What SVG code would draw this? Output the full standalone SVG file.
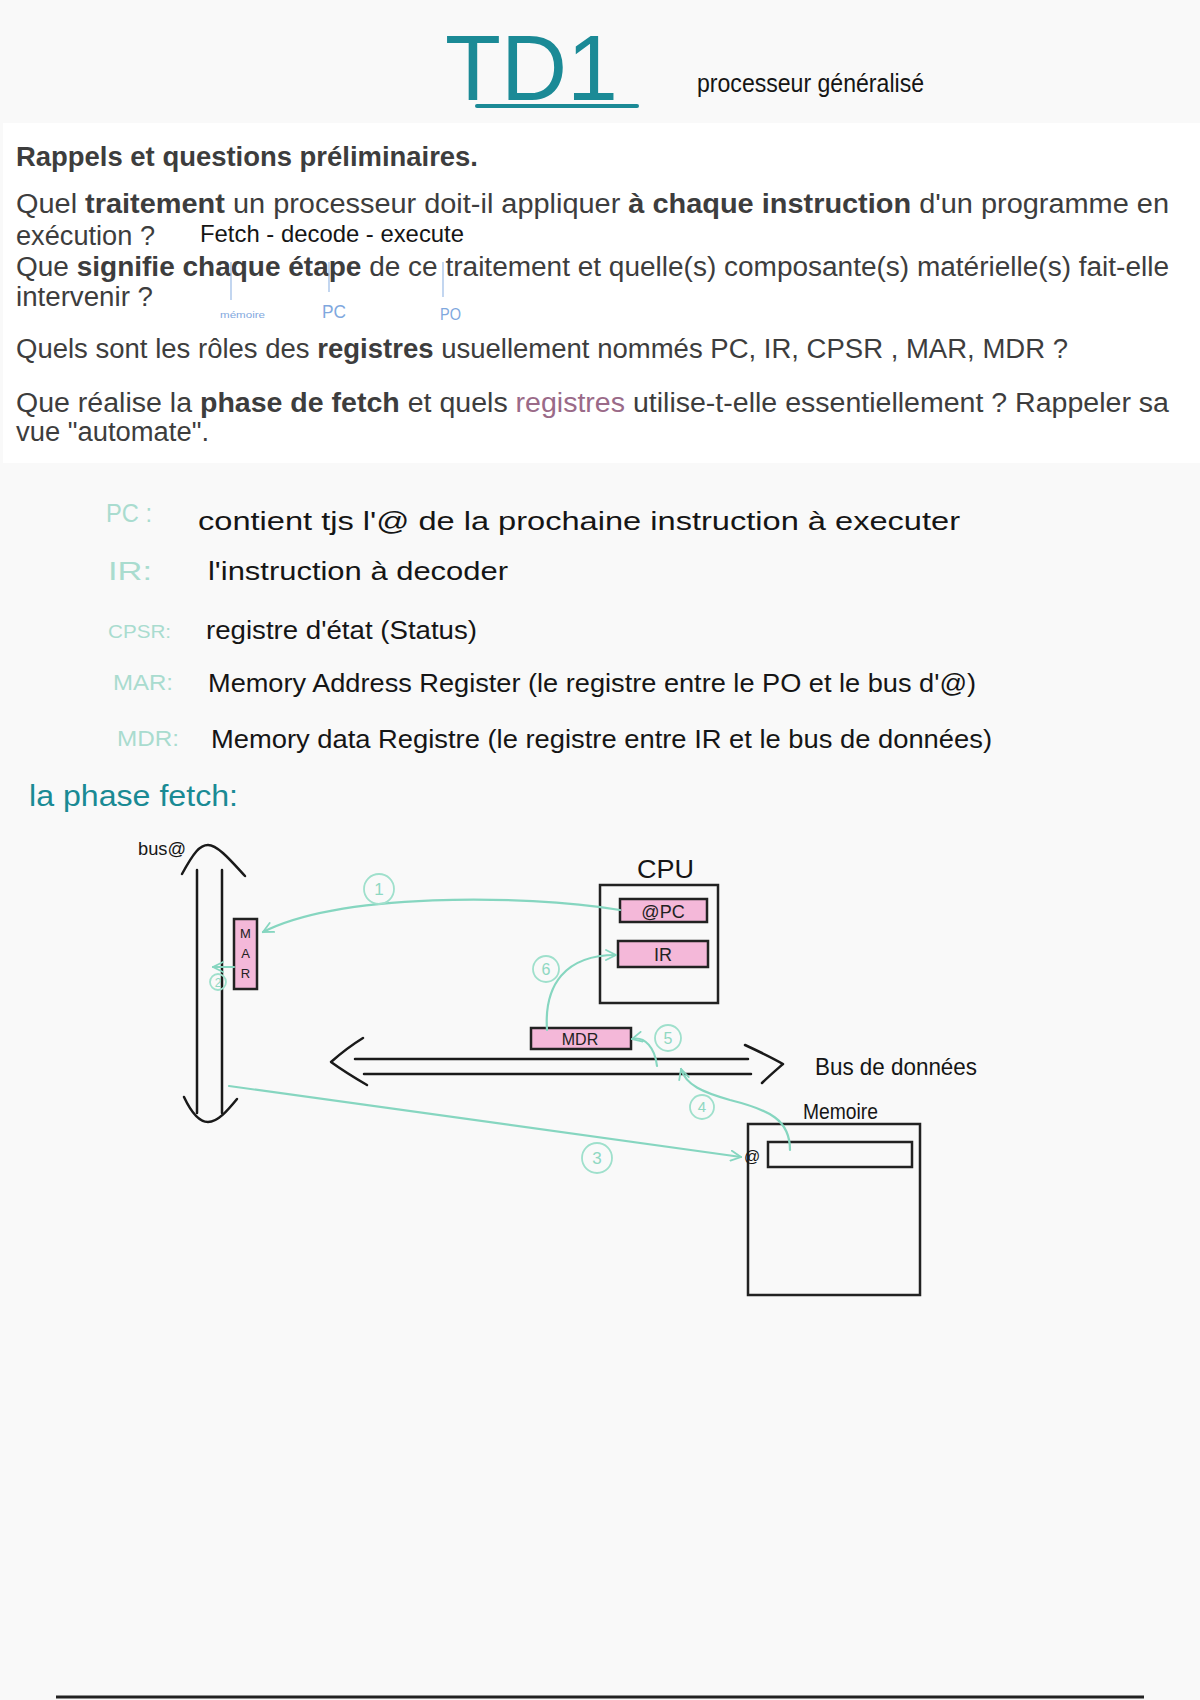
<svg xmlns="http://www.w3.org/2000/svg" width="1200" height="1700" viewBox="0 0 1200 1700">
<defs>
<style>
.q{font-family:"Liberation Sans",Arial,sans-serif;font-size:27px;fill:#3d3d3d}
.b{font-weight:bold}
.hw{font-family:"Liberation Sans",Arial,sans-serif;fill:#151515}
.lab{font-family:"Liberation Sans",Arial,sans-serif;fill:#a9dccf}
.blue{font-family:"Liberation Sans",Arial,sans-serif;fill:#7fa8de}
.box{fill:none;stroke:#222;stroke-width:2.5}
.reg{fill:#f4b8d9;stroke:#222;stroke-width:2.5}
.bus{fill:none;stroke:#1a1a1a;stroke-width:2.5;stroke-linecap:round;stroke-linejoin:round}
.con{fill:none;stroke:#86d6c0;stroke-width:2.2;stroke-linecap:round}
.num{fill:none;stroke:#9fe0cc;stroke-width:1.8}
.numt{font-family:"Liberation Sans",Arial,sans-serif;fill:#8fd8c2;text-anchor:middle}
.rt{font-family:"Liberation Sans",Arial,sans-serif;fill:#222;text-anchor:middle}
</style>
<marker id="ah" viewBox="0 0 12 12" refX="11" refY="6" markerWidth="12" markerHeight="12" markerUnits="userSpaceOnUse" orient="auto">
<path d="M1,1 L11,6 L1,11" fill="none" stroke="#86d6c0" stroke-width="1.8" stroke-linecap="round"/>
</marker>
</defs>
<rect x="0" y="0" width="1200" height="1700" fill="#f9f9f9"/>

<g id="title">
<text x="445" y="100" font-family="Liberation Sans,Arial,sans-serif" font-size="92" fill="#1b8a96" textLength="173" lengthAdjust="spacingAndGlyphs">TD1</text>
<path d="M477,106 L637,106" stroke="#1b8a96" stroke-width="4" stroke-linecap="round"/>
<text x="697" y="92" class="hw" font-size="26" textLength="227" lengthAdjust="spacingAndGlyphs">processeur généralisé</text>
</g>

<g id="questions">
<rect x="3" y="123" width="1197" height="340" fill="#ffffff"/>
<text x="16" y="166" class="q b" textLength="462" lengthAdjust="spacingAndGlyphs">Rappels et questions préliminaires.</text>
<text x="16" y="213" class="q" textLength="1153" lengthAdjust="spacingAndGlyphs">Quel <tspan class="b">traitement</tspan> un processeur doit-il appliquer <tspan class="b">à chaque instruction</tspan> d'un programme en</text>
<text x="16" y="245" class="q" textLength="139" lengthAdjust="spacingAndGlyphs">exécution ?</text>
<text x="16" y="276" class="q" textLength="1153" lengthAdjust="spacingAndGlyphs">Que <tspan class="b">signifie chaque étape</tspan> de ce traitement et quelle(s) composante(s) matérielle(s) fait-elle</text>
<text x="16" y="306" class="q" textLength="137" lengthAdjust="spacingAndGlyphs">intervenir ?</text>
<text x="16" y="358" class="q" textLength="1052" lengthAdjust="spacingAndGlyphs">Quels sont les rôles des <tspan class="b">registres</tspan> usuellement nommés PC, IR, CPSR , MAR, MDR ?</text>
<text x="16" y="412" class="q" textLength="1153" lengthAdjust="spacingAndGlyphs">Que réalise la <tspan class="b">phase de fetch</tspan> et quels <tspan fill="#9a6a88">registres</tspan> utilise-t-elle essentiellement ? Rappeler sa</text>
<text x="16" y="441" class="q" textLength="193" lengthAdjust="spacingAndGlyphs">vue "automate".</text>
<text x="200" y="242" class="hw" font-size="24" textLength="264" lengthAdjust="spacingAndGlyphs">Fetch - decode - execute</text>
<path d="M231,262 L231,300 M329,262 L329,292 M443,262 L443,297" stroke="#9bbbe6" stroke-width="1.2" fill="none"/>
<text x="220" y="318" class="blue" font-size="9" textLength="45" lengthAdjust="spacingAndGlyphs">mémoire</text>
<text x="322" y="318" class="blue" font-size="18" textLength="24" lengthAdjust="spacingAndGlyphs">PC</text>
<text x="440" y="320" class="blue" font-size="17" textLength="21" lengthAdjust="spacingAndGlyphs">PO</text>
</g>

<g id="notes">
<text x="106" y="522" class="lab" font-size="26" textLength="46" lengthAdjust="spacingAndGlyphs">PC :</text>
<text x="198" y="530" class="hw" font-size="25" textLength="762" lengthAdjust="spacingAndGlyphs">contient tjs l'@ de la prochaine instruction à executer</text>
<text x="108" y="580" class="lab" font-size="25" textLength="44" lengthAdjust="spacingAndGlyphs">IR:</text>
<text x="208" y="580" class="hw" font-size="25" textLength="300" lengthAdjust="spacingAndGlyphs">l'instruction à decoder</text>
<text x="108" y="638" class="lab" font-size="18" textLength="63" lengthAdjust="spacingAndGlyphs">CPSR:</text>
<text x="206" y="639" class="hw" font-size="25" textLength="271" lengthAdjust="spacingAndGlyphs">registre d'état (Status)</text>
<text x="113" y="690" class="lab" font-size="22" textLength="60" lengthAdjust="spacingAndGlyphs">MAR:</text>
<text x="208" y="692" class="hw" font-size="25" textLength="768" lengthAdjust="spacingAndGlyphs">Memory Address Register (le registre entre le PO et le bus d'@)</text>
<text x="117" y="746" class="lab" font-size="22" textLength="62" lengthAdjust="spacingAndGlyphs">MDR:</text>
<text x="211" y="748" class="hw" font-size="25" textLength="781" lengthAdjust="spacingAndGlyphs">Memory data Registre (le registre entre IR et le bus de données)</text>
<text x="29" y="806" font-family="Liberation Sans,Arial,sans-serif" font-size="30" fill="#1a8a94" textLength="209" lengthAdjust="spacingAndGlyphs">la phase fetch:</text>
</g>

<g id="bus-adresse">
<text x="138" y="855" class="hw" font-size="18" textLength="48" lengthAdjust="spacingAndGlyphs">bus@</text>
<path class="bus" d="M197,870 L197,1113 M222,870 L222,1113"/>
<path class="bus" d="M182,874 C194,852 200,845 208,845 C218,845 232,862 245,876"/>
<path class="bus" d="M184,1097 C192,1114 200,1122 208,1122 C218,1122 228,1110 237,1099"/>
</g>

<g id="mar">
<rect class="reg" x="234" y="919" width="23" height="70"/>
<text x="245.5" y="938" class="rt" font-size="13">M</text>
<text x="245.5" y="958" class="rt" font-size="13">A</text>
<text x="245.5" y="978" class="rt" font-size="13">R</text>
</g>

<g id="cpu">
<text x="637" y="878" class="hw" font-size="26" textLength="57" lengthAdjust="spacingAndGlyphs">CPU</text>
<rect class="box" x="600" y="885" width="118" height="118"/>
</g>
<g id="pc">
<rect class="reg" x="620" y="899" width="87" height="23"/>
<text x="663" y="918" class="rt" font-size="18">@PC</text>
</g>
<g id="ir">
<rect class="reg" x="618" y="941" width="90" height="26"/>
<text x="663" y="961" class="rt" font-size="18">IR</text>
</g>
<g id="mdr">
<rect class="reg" x="531" y="1028" width="100" height="21"/>
<text x="580" y="1045" class="rt" font-size="16">MDR</text>
</g>

<g id="bus-donnees">
<path class="bus" d="M355,1059 L748,1059 M364,1074 L751,1074"/>
<path class="bus" d="M363,1038 C350,1046 340,1054 331,1062 C342,1070 355,1078 367,1085"/>
<path class="bus" d="M745,1045 C758,1051 771,1057 783,1064 C775,1071 768,1077 762,1083"/>
<text x="815" y="1075" class="hw" font-size="24" textLength="162" lengthAdjust="spacingAndGlyphs">Bus de données</text>
</g>

<g id="memoire">
<text x="803" y="1119" class="hw" font-size="22" textLength="75" lengthAdjust="spacingAndGlyphs">Memoire</text>
<rect class="box" x="748" y="1124" width="172" height="171"/>
<rect class="box" x="768" y="1142" width="144" height="25"/>
<text x="744" y="1162" class="hw" font-size="16">@</text>
</g>

<g id="connectors">
<path class="con" d="M620,910 C520,894 340,893 263,932" marker-end="url(#ah)"/>
<path class="con" d="M234,967 L213,967" marker-end="url(#ah)"/>
<path class="con" d="M229,1086 L741,1157" marker-end="url(#ah)"/>
<path class="con" d="M790,1150 C790,1120 770,1110 730,1100 C702,1092 686,1085 681,1069" marker-end="url(#ah)"/>
<path class="con" d="M657,1066 C655,1048 645,1036 632,1039" marker-end="url(#ah)"/>
<path class="con" d="M547,1030 C544,985 565,955 616,955" marker-end="url(#ah)"/>
<circle class="num" cx="379" cy="889" r="15"/><text x="379" y="895" class="numt" font-size="17">1</text>
<circle class="num" cx="218" cy="982" r="8"/><text x="218" y="987" class="numt" font-size="12">2</text>
<circle class="num" cx="597" cy="1158" r="15"/><text x="597" y="1164" class="numt" font-size="17">3</text>
<circle class="num" cx="702" cy="1107" r="12"/><text x="702" y="1112" class="numt" font-size="15">4</text>
<circle class="num" cx="668" cy="1038" r="13"/><text x="668" y="1044" class="numt" font-size="16">5</text>
<circle class="num" cx="546" cy="969" r="13"/><text x="546" y="975" class="numt" font-size="16">6</text>
</g>

<path d="M56,1697 L1144,1697" stroke="#222" stroke-width="3"/>
</svg>
